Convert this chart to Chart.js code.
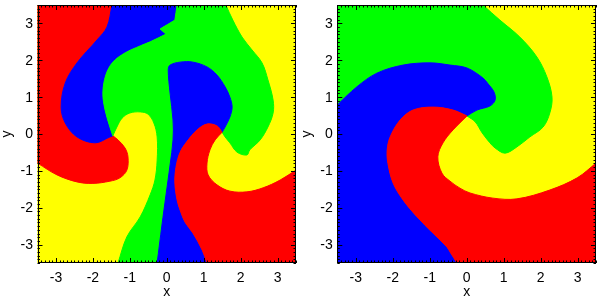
<!DOCTYPE html>
<html><head><meta charset="utf-8">
<script src="https://cdn.jsdelivr.net/npm/chart.js@4/dist/chart.umd.min.js"></script>
<style>
html,body{margin:0;padding:0;background:#fff;overflow:hidden}
#wrap{position:relative;width:600px;height:298px}
.p{position:absolute;top:0;width:300px;height:298px}
</style></head><body>
<div id="wrap">
<div class="p" style="left:0"><canvas id="c1" width="300" height="298"></canvas></div>
<div class="p" style="left:300px"><canvas id="c2" width="300" height="298"></canvas></div>
</div>
<script>
// axis settings
const axisMin = -3.5, axisMax = 3.5;
const tickValues = [-3, -2, -1, 0, 1, 2, 3];
const tickLabels = ['-3', '-2', '-1', '0', '1', '2', '3'];
const xTitle = 'x', yTitle = 'y';

// LEFT panel regions (polygon vertices, data coords)
const leftYellowBase = [[-3.5,3.5],[3.5,3.5],[3.5,-3.5],[-3.5,-3.5]];
const leftRedWest = [[-3.5,3.5],[-1.48,3.5],[-1.62,2.90],[-1.89,2.55],[-2.43,1.93],[-2.75,1.38],[-2.86,0.73],[-2.75,0.30],[-2.43,-0.08],[-1.94,-0.24],[-1.54,-0.08],[-1.46,-0.05],[-1.32,-0.16],[-1.13,-0.38],[-1.05,-0.62],[-1.08,-0.98],[-1.27,-1.19],[-1.54,-1.28],[-2.00,-1.34],[-2.43,-1.30],[-2.97,-1.11],[-3.5,-0.79]];
const leftBlueWest = [[-1.48,3.5],[0.28,3.5],[0.22,3.09],[-0.18,2.85],[-0.02,2.71],[-0.45,2.50],[-0.72,2.39],[-1.13,2.20],[-1.46,1.95],[-1.65,1.60],[-1.73,1.11],[-1.67,0.65],[-1.54,0.19],[-1.46,-0.05],[-1.54,-0.08],[-1.94,-0.24],[-2.43,-0.08],[-2.75,0.30],[-2.86,0.73],[-2.75,1.38],[-2.43,1.93],[-1.89,2.55],[-1.62,2.90]];
const leftGreenCentre = [[0.28,3.5],[1.60,3.5],[1.79,3.09],[2.04,2.63],[2.31,2.28],[2.58,1.93],[2.74,1.47],[2.88,0.92],[2.88,0.57],[2.74,0.19],[2.53,-0.16],[2.25,-0.43],[2.17,-0.57],[1.90,-0.49],[1.71,-0.24],[1.58,-0.08],[1.50,0.05],[1.58,0.19],[1.71,0.46],[1.77,0.73],[1.71,1.00],[1.58,1.28],[1.36,1.60],[1.09,1.82],[0.71,1.95],[0.36,1.95],[0.09,1.87],[0.04,1.74],[0.09,1.11],[0.17,0.38],[0.17,-0.16],[0.09,-0.84],[-0.02,-1.65],[-0.13,-2.47],[-0.26,-3.5],[-1.32,-3.5],[-1.08,-2.79],[-0.72,-2.25],[-0.45,-1.65],[-0.32,-1.25],[-0.26,-0.71],[-0.26,-0.08],[-0.35,0.30],[-0.51,0.54],[-0.72,0.60],[-1.00,0.57],[-1.21,0.43],[-1.35,0.19],[-1.46,-0.05],[-1.54,0.19],[-1.67,0.65],[-1.73,1.11],[-1.65,1.60],[-1.46,1.95],[-1.13,2.20],[-0.72,2.39],[-0.45,2.50],[-0.02,2.71],[-0.18,2.85],[0.22,3.09]];
const leftBlueCentre = [[1.50,0.05],[1.36,0.22],[1.09,0.27],[0.82,0.11],[0.55,-0.20],[0.36,-0.50],[0.25,-0.90],[0.22,-1.33],[0.28,-1.79],[0.36,-2.06],[0.50,-2.40],[0.71,-2.69],[0.96,-3.15],[1.09,-3.5],[-0.26,-3.5],[-0.13,-2.47],[-0.02,-1.65],[0.09,-0.84],[0.17,-0.16],[0.17,0.38],[0.09,1.11],[0.04,1.74],[0.09,1.87],[0.36,1.95],[0.71,1.95],[1.09,1.82],[1.36,1.60],[1.58,1.28],[1.71,1.00],[1.77,0.73],[1.71,0.46],[1.58,0.19]];
const leftRedEast = [[1.50,0.05],[1.31,-0.16],[1.17,-0.43],[1.09,-0.79],[1.12,-1.11],[1.36,-1.38],[1.71,-1.55],[2.17,-1.57],[2.61,-1.46],[3.07,-1.25],[3.5,-0.98],[3.5,-3.5],[1.09,-3.5],[0.96,-3.15],[0.71,-2.69],[0.50,-2.40],[0.36,-2.06],[0.28,-1.79],[0.22,-1.33],[0.25,-0.90],[0.36,-0.50],[0.55,-0.20],[0.82,0.11],[1.09,0.27],[1.36,0.22]];
const leftJunctions = [[-1.46,-0.05],[1.50,0.05],[0.22,3.09],[-0.18,2.85],[-0.02,2.71]];

// RIGHT panel regions
const rightYellowBase = [[-3.5,3.5],[3.5,3.5],[3.5,-3.5],[-3.5,-3.5]];
const rightGreen = [[-3.5,3.5],[0.44,3.5],[0.90,3.09],[1.44,2.63],[1.90,2.09],[2.17,1.55],[2.31,1.00],[2.25,0.57],[2.07,0.19],[1.71,-0.08],[1.36,-0.35],[1.04,-0.52],[0.77,-0.38],[0.63,-0.24],[0.42,0.03],[0.23,0.33],[0.01,0.49],[0.28,0.65],[0.63,0.76],[0.77,0.92],[0.74,1.14],[0.58,1.36],[0.44,1.52],[0.01,1.79],[-0.45,1.87],[-0.99,1.93],[-1.72,1.87],[-2.43,1.65],[-2.97,1.28],[-3.5,0.79]];
const rightBlue = [[-3.5,0.79],[-2.97,1.28],[-2.43,1.65],[-1.72,1.87],[-0.99,1.93],[-0.45,1.87],[0.01,1.79],[0.44,1.52],[0.58,1.36],[0.74,1.14],[0.77,0.92],[0.63,0.76],[0.28,0.65],[0.01,0.49],[-0.37,0.65],[-0.91,0.73],[-1.45,0.65],[-1.80,0.38],[-2.07,-0.08],[-2.15,-0.43],[-2.13,-0.80],[-1.99,-1.33],[-1.72,-1.79],[-1.34,-2.25],[-0.91,-2.69],[-0.53,-3.07],[-0.45,-3.20],[-0.26,-3.5],[-3.5,-3.5]];
const rightRed = [[0.01,0.49],[-0.37,0.65],[-0.91,0.73],[-1.45,0.65],[-1.80,0.38],[-2.07,-0.08],[-2.15,-0.43],[-2.13,-0.80],[-1.99,-1.33],[-1.72,-1.79],[-1.34,-2.25],[-0.91,-2.69],[-0.53,-3.07],[-0.45,-3.20],[-0.26,-3.5],[3.5,-3.5],[3.5,-0.79],[2.99,-1.19],[2.25,-1.52],[1.36,-1.76],[0.71,-1.74],[0.09,-1.60],[-0.18,-1.47],[-0.45,-1.28],[-0.67,-1.06],[-0.78,-0.62],[-0.64,-0.24],[-0.37,0.11]];
const rightJunctions = [[0.01,0.49]];

const RED = '#ff0000', GREEN = '#00ff00', BLUE = '#0000ff', YELLOW = '#ffff00';

// build a closed smoothed path: edge points and junctions are kept sharp
function toPath(points, junctions) {
  const sharp = p => Math.abs(p[0]) === 3.5 || Math.abs(p[1]) === 3.5 ||
    junctions.some(j => j[0] === p[0] && j[1] === p[1]);
  const out = [];
  points.concat([points[0]]).forEach((p, i, arr) => {
    out.push({x: p[0], y: p[1]});
    if (sharp(p) && i > 0 && i < arr.length - 1) out.push({x: p[0], y: p[1]});
  });
  return out;
}

function region(points, junctions, color, order) {
  return {
    data: toPath(points, junctions),
    showLine: true, fill: 'shape',
    backgroundColor: color, borderColor: color, borderWidth: 1,
    pointRadius: 0, pointHoverRadius: 0, tension: 0.35, order: order, clip: 0
  };
}

const FONT = '14px "Liberation Sans", Arial, Helvetica, sans-serif';

const framePlugin = {
  id: 'frameTicks',
  afterDraw(chart) {
    const {ctx, chartArea: a, scales: {x, y}} = chart;
    ctx.save();
    ctx.strokeStyle = '#000';
    ctx.lineWidth = 1;
    ctx.beginPath();
    for (let i = -35; i <= 35; i++) {
      const v = i / 10;
      const L = (i % 10 === 0) ? 5 : 2.5;
      const px = Math.round(x.getPixelForValue(v)) + 0.5;
      ctx.moveTo(px, a.bottom); ctx.lineTo(px, a.bottom - L);
      ctx.moveTo(px, a.top); ctx.lineTo(px, a.top + L);
      const py = Math.round(y.getPixelForValue(v)) + 0.5;
      ctx.moveTo(a.left, py); ctx.lineTo(a.left + L, py);
      ctx.moveTo(a.right, py); ctx.lineTo(a.right - L, py);
    }
    ctx.stroke();
    ctx.strokeRect(Math.round(a.left) + 0.5, Math.round(a.top) + 0.5,
      Math.round(a.right) - Math.round(a.left) - 1, Math.round(a.bottom) - Math.round(a.top) - 1);
    ctx.fillStyle = '#000';
    ctx.font = FONT;
    ctx.textAlign = 'center';
    ctx.textBaseline = 'middle';
    tickValues.forEach((v, i) => {
      ctx.fillText(tickLabels[i], x.getPixelForValue(v), a.bottom + 15);
    });
    ctx.textAlign = 'right';
    tickValues.forEach((v, i) => {
      ctx.fillText(tickLabels[i], a.left - 4.5, y.getPixelForValue(v) + 0.5);
    });
    ctx.textAlign = 'center';
    ctx.textBaseline = 'alphabetic';
    ctx.fillText(xTitle, (a.left + a.right) / 2, 296);
    ctx.save();
    ctx.translate(10.5, (a.top + a.bottom) / 2);
    ctx.rotate(-Math.PI / 2);
    ctx.fillText(yTitle, 0, 0);
    ctx.restore();
    ctx.restore();
  }
};

function makeChart(id, datasets, padLeft) {
  return new Chart(document.getElementById(id), {
    type: 'scatter',
    data: {datasets},
    options: {
      responsive: false, animation: false, events: [],
      layout: {padding: {left: padLeft, right: 4, top: 5, bottom: 35}},
      plugins: {legend: {display: false}, tooltip: {enabled: false}},
      scales: {
        x: {type: 'linear', min: axisMin, max: axisMax, display: false},
        y: {type: 'linear', min: axisMin, max: axisMax, display: false}
      }
    },
    plugins: [framePlugin]
  });
}

makeChart('c1', [
  region(leftRedEast, leftJunctions, RED, 1),
  region(leftBlueCentre, leftJunctions, BLUE, 2),
  region(leftGreenCentre, leftJunctions, GREEN, 3),
  region(leftBlueWest, leftJunctions, BLUE, 4),
  region(leftRedWest, leftJunctions, RED, 5),
  region(leftYellowBase, leftJunctions, YELLOW, 9)
], 37.5);

makeChart('c2', [
  region(rightRed, rightJunctions, RED, 1),
  region(rightBlue, rightJunctions, BLUE, 2),
  region(rightGreen, rightJunctions, GREEN, 3),
  region(rightYellowBase, rightJunctions, YELLOW, 9)
], 37.3);
</script>
</body></html>
